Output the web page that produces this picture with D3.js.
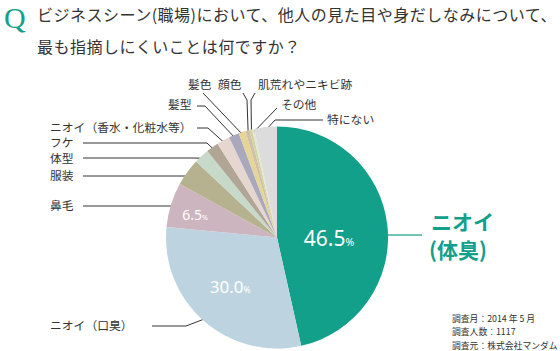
<!DOCTYPE html>
<html lang="ja">
<head>
<meta charset="UTF-8">
<title>ビジネスシーンで指摘しにくいこと</title>
<script src="https://d3js.org/d3.v7.min.js"></script>
<style>
  body { margin: 0; background: #fff; }
  svg { display: block; font-family: "Noto Sans CJK JP", "Noto Sans", sans-serif; }
</style>
</head>
<body>
<svg id="chart" width="560" height="351"></svg>
<script>
// data, clockwise from 12 o'clock
const categories = ["ニオイ（体臭）", "ニオイ（口臭）", "鼻毛", "服装", "体型", "フケ",
  "ニオイ（香水・化粧水等）", "髪型", "髪色", "顔色", "肌荒れやニキビ跡", "その他", "特にない"];
const values = [46.5, 30.0, 6.5, 4.0, 2.2, 1.8, 1.9, 1.5, 1.0, 0.6, 0.4, 0.3, 3.3];
const colors = ["#12a08b", "#bdd4e0", "#cdb5c0", "#b6b28f", "#c7d9c9", "#b1a696",
  "#e5d7cf", "#aaa8bd", "#e4d598", "#d2bfa4", "#cfd5a6", "#e3e6cc", "#dcdcdc"];
const titleLines = ["ビジネスシーン(職場)において、他人の見た目や身だしなみについて、",
  "最も指摘しにくいことは何ですか？"];
const footnotes = ["調査月：2014 年 5 月", "調査人数：1117", "調査元：株式会社マンダム"];

const width = 560, height = 351;
const cx = 277, cy = 237.5, radius = 111;
const teal = "#12a08b";

const svg = d3.select("#chart");

// title
svg.append("text")
  .attr("x", 4).attr("y", 28)
  .attr("font-family", "Liberation Serif, DejaVu Serif, serif")
  .attr("font-size", 30)
  .attr("fill", teal)
  .text("Q");

svg.selectAll(".title")
  .data(titleLines)
  .join("text")
  .attr("class", "title")
  .attr("x", 37)
  .attr("y", (d, i) => 21 + i * 31.5)
  .attr("font-size", 16)
  .attr("letter-spacing", 0.5)
  .attr("fill", "#333")
  .text(d => d);

const pie = d3.pie().sort(null).value(d => d);
const arcs = pie(values);
const arc = d3.arc().innerRadius(0).outerRadius(radius);

function pointAt(angle, r) {
  return [cx + r * Math.sin(angle), cy - r * Math.cos(angle)];
}

// leader lines + labels (layout only; anchors come from the arcs)
const labelLayout = [
  null,
  { x: 50, y: 326, path: [[152, 326], [186, 326]] },
  { x: 50, y: 206, path: [[83, 206]], horizontal: true },
  { x: 50, y: 176, path: [[83, 176]], horizontal: true },
  { x: 50, y: 159, path: [[83, 158], [193, 158]] },
  { x: 50, y: 142.5, path: [[83, 143], [207, 143]] },
  { x: 50, y: 127.5, path: [[197, 128], [208, 128]] },
  { x: 168, y: 105, path: [[197, 106], [205, 106]] },
  { x: 188, y: 85, path: [[203, 93]] },
  { x: 218, y: 85, path: [[243, 93], [247, 100]] },
  { x: 258, y: 85, path: [[255, 93], [251, 100]] },
  { x: 281, y: 105, path: [[277, 108]] },
  { x: 327, y: 120, path: [[323, 120], [275, 120]] }
];

const line = d3.line();
const leaders = svg.append("g");
arcs.forEach((a, i) => {
  const lay = labelLayout[i];
  if (!lay) return;
  const pts = lay.path.slice();
  const last = pts[pts.length - 1];
  if (lay.horizontal) {
    const dy = last[1] - cy;
    pts.push([cx - Math.sqrt(radius * radius - dy * dy) + 4, last[1]]);
  } else {
    pts.push(pointAt((a.startAngle + a.endAngle) / 2, radius - 3));
  }
  leaders.append("path")
    .attr("d", line(pts))
    .attr("fill", "none")
    .attr("stroke", "#333")
    .attr("stroke-width", 1);
  leaders.append("text")
    .attr("x", lay.x)
    .attr("y", lay.y + 4.2)
    .attr("font-size", 11.8)
    .attr("fill", "#333")
    .text(categories[i]);
});

// callout for the biggest slice
const calloutY = 235;
leaders.append("line")
  .attr("x1", 422).attr("y1", calloutY)
  .attr("x2", cx + Math.sqrt(radius * radius - (calloutY - cy) ** 2) - 4)
  .attr("y2", calloutY)
  .attr("stroke", "#6fc4b6")
  .attr("stroke-width", 2);

svg.append("text")
  .attr("x", 431).attr("y", 229.5)
  .attr("font-size", 21)
  .attr("font-weight", "bold")
  .attr("fill", teal)
  .text("ニオイ");
svg.append("text")
  .attr("x", 429).attr("y", 257.5)
  .attr("font-size", 21)
  .attr("font-weight", "bold")
  .attr("fill", teal)
  .text("(体臭)");

// pie
svg.append("g")
  .attr("transform", `translate(${cx},${cy})`)
  .selectAll("path")
  .data(arcs)
  .join("path")
  .attr("d", arc)
  .attr("fill", (d, i) => colors[i]);

// percent labels in the three large slices
const pctLayout = [
  { r: 52, da: 6.8, size: 21 },
  { r: 68, da: 2.1, size: 17 },
  { r: 85, da: -1.8, size: 14 }
];
pctLayout.forEach((p, i) => {
  const a = arcs[i];
  const ang = (a.startAngle + a.endAngle) / 2 + p.da * Math.PI / 180;
  const [x, y] = pointAt(ang, p.r);
  const t = svg.append("text")
    .attr("x", x)
    .attr("y", y + p.size * 0.36)
    .attr("text-anchor", "middle")
    .attr("fill", "#fff")
    .attr("font-family", "Noto Sans, sans-serif")
    .attr("font-size", p.size);
  t.append("tspan").text(d3.format(".1f")(values[i]));
  t.append("tspan").attr("font-size", p.size * 0.5).text("%");
});

// footnotes
svg.selectAll(".note")
  .data(footnotes)
  .join("text")
  .attr("class", "note")
  .attr("x", 452)
  .attr("y", (d, i) => 321.5 + i * 13.5)
  .attr("font-size", 8.8)
  .attr("fill", "#333")
  .text(d => d);
</script>
</body>
</html>
